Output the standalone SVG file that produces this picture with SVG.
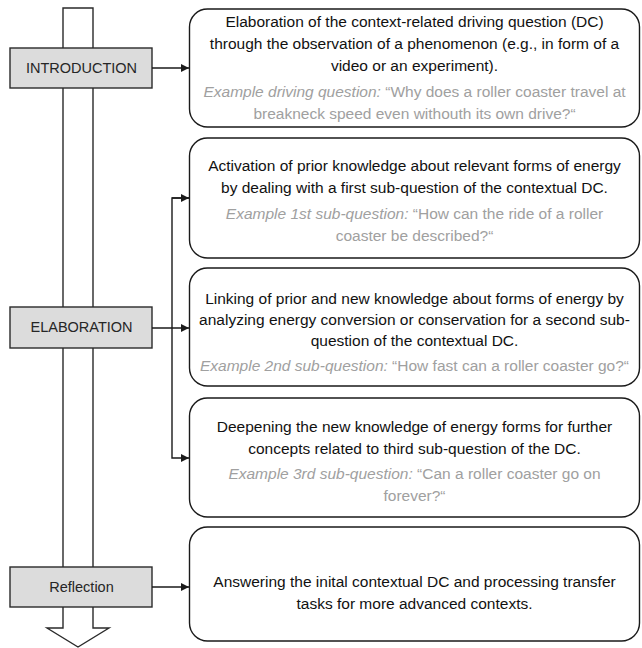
<svg xmlns="http://www.w3.org/2000/svg" width="642" height="648" viewBox="0 0 642 648">
<defs>
<marker id="ah" viewBox="0 0 10 10" refX="10" refY="5" markerWidth="9" markerHeight="8" markerUnits="userSpaceOnUse" orient="auto">
<path d="M0,0 L10,5 L0,10 Z" fill="#1a1a1a"/>
</marker>
<style>
.box{fill:#fff;stroke:#1a1a1a;stroke-width:1.4}
.lbl{fill:#dcdcdc;stroke:#2a2a2a;stroke-width:1.4}
.lt{font-family:"Liberation Sans",Arial,sans-serif;font-size:14.5px;fill:#262626;text-anchor:middle}
.t{font-family:"Liberation Sans",Arial,sans-serif;font-size:15.5px;fill:#111;text-anchor:middle}
.g{fill:#a0a0a0}
.i{font-style:italic}
.con{fill:none;stroke:#1a1a1a;stroke-width:1.4}
</style>
</defs>
<rect width="642" height="648" fill="#fff"/>
<g id="timeline">
<path d="M63,8 H93 V628 H109 L78,647 L47,628 H63 Z" fill="#fff" stroke="#2a2a2a" stroke-width="1.4"/>
</g>
<g id="introduction">
<rect class="lbl" x="10" y="48" width="142" height="40"/>
<text class="lt" x="81.5" y="73">INTRODUCTION</text>
</g>
<g id="elaboration">
<rect class="lbl" x="10" y="307" width="142" height="41"/>
<text class="lt" x="81.5" y="332">ELABORATION</text>
</g>
<g id="reflection">
<rect class="lbl" x="10" y="567" width="142" height="40"/>
<text class="lt" x="81.5" y="592">Reflection</text>
</g>
<g id="connectors">
<path class="con" d="M152,68 H189" marker-end="url(#ah)"/>
<path class="con" d="M152,328 H189" marker-end="url(#ah)"/>
<path class="con" d="M189,198 H172 V458 H189" marker-end="url(#ah)"/>
<path class="con" d="M172,198 H189" marker-end="url(#ah)"/>
<path class="con" d="M152,587 H189" marker-end="url(#ah)"/>
</g>
<g id="step1">
<rect class="box" x="189.5" y="9" width="450" height="118" rx="18"/>
<text class="t" x="414.5" y="27">Elaboration of the context-related driving question (DC)</text>
<text class="t" x="414.5" y="49">through the observation of a phenomenon (e.g., in form of a</text>
<text class="t" x="414.5" y="71">video or an experiment).</text>
<text class="t g" x="414.5" y="97"><tspan class="i">Example driving question:</tspan> “Why does a roller coaster travel at</text>
<text class="t g" x="414.5" y="119">breakneck speed even withouth its own drive?“</text>
</g>
<g id="step2">
<rect class="box" x="189.5" y="138" width="450" height="120" rx="18"/>
<text class="t" x="414.5" y="171">Activation of prior knowledge about relevant forms of energy</text>
<text class="t" x="414.5" y="193">by dealing with a first sub-question of the contextual DC.</text>
<text class="t g" x="414.5" y="219"><tspan class="i">Example 1st sub-question:</tspan> “How can the ride of a roller</text>
<text class="t g" x="414.5" y="241">coaster be described?“</text>
</g>
<g id="step3">
<rect class="box" x="189.5" y="268" width="450" height="118" rx="18"/>
<text class="t" x="414.5" y="304">Linking of prior and new knowledge about forms of energy by</text>
<text class="t" x="414.5" y="325">analyzing energy conversion or conservation for a second sub-</text>
<text class="t" x="414.5" y="346">question of the contextual DC.</text>
<text class="t g" x="414.5" y="371"><tspan class="i">Example 2nd sub-question:</tspan> “How fast can a roller coaster go?“</text>
</g>
<g id="step4">
<rect class="box" x="189.5" y="398" width="450" height="119" rx="18"/>
<text class="t" x="414.5" y="432">Deepening the new knowledge of energy forms for further</text>
<text class="t" x="414.5" y="454">concepts related to third sub-question of the DC.</text>
<text class="t g" x="414.5" y="479"><tspan class="i">Example 3rd sub-question:</tspan> “Can a roller coaster go on</text>
<text class="t g" x="414.5" y="501">forever?“</text>
</g>
<g id="step5">
<rect class="box" x="189.5" y="527" width="450" height="114" rx="18"/>
<text class="t" x="414.5" y="587">Answering the inital contextual DC and processing transfer</text>
<text class="t" x="414.5" y="609">tasks for more advanced contexts.</text>
</g>
</svg>
